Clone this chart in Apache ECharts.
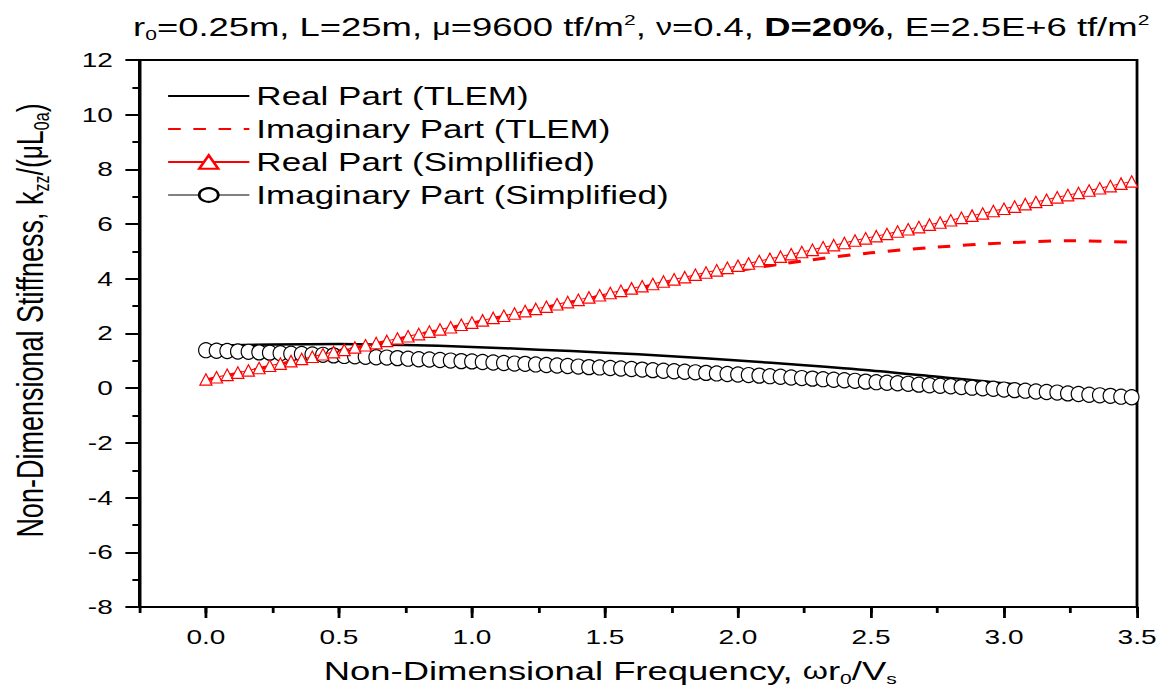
<!DOCTYPE html>
<html>
<head>
<meta charset="utf-8">
<script src="https://cdn.jsdelivr.net/npm/echarts@6/dist/echarts.min.js"></script>
<style>
html,body{margin:0;padding:0;background:#fff;overflow:hidden;}
#wrap{width:1174px;height:696px;overflow:hidden;position:relative;background:#fff;}
#chart{width:838px;height:696px;transform:scaleX(1.400955);transform-origin:0 0;}
</style>
</head>
<body>
<div id="wrap"><div id="chart"></div></div>
<script>
// ---- data ----
const tlemX = [0,0.25,0.5,0.75,1,1.25,1.5,1.75,2,2.25,2.5,2.75,3,3.25,3.5];
const realTLEM = [1.55,1.60,1.62,1.58,1.51,1.41,1.30,1.17,1.01,0.84,0.65,0.42,0.18,-0.15,-0.56];
const imagTLEM = [0.30,0.82,1.34,1.86,2.38,2.90,3.40,3.88,4.30,4.66,4.95,5.16,5.31,5.39,5.33];

const simpX = [0,0.04,0.08,0.12,0.16,0.2,0.24,0.28,0.32,0.36,
  0.4,0.44,0.48,0.52,0.56,0.6,0.64,0.68,0.72,0.76,
  0.8,0.84,0.88,0.92,0.96,1,1.04,1.08,1.12,1.16,
  1.2,1.24,1.28,1.32,1.36,1.4,1.44,1.48,1.52,1.56,
  1.6,1.64,1.68,1.72,1.76,1.8,1.84,1.88,1.92,1.96,
  2,2.04,2.08,2.12,2.16,2.2,2.24,2.28,2.32,2.36,
  2.4,2.44,2.48,2.52,2.56,2.6,2.64,2.68,2.72,2.76,
  2.8,2.84,2.88,2.92,2.96,3,3.04,3.08,3.12,3.16,
  3.2,3.24,3.28,3.32,3.36,3.4,3.44,3.48];
const realSimp = [0.32,0.40,0.49,0.57,0.65,0.74,0.82,0.90,0.99,1.07,
  1.15,1.24,1.32,1.40,1.49,1.57,1.65,1.73,1.82,1.90,
  1.98,2.07,2.15,2.23,2.32,2.40,2.48,2.57,2.65,2.73,
  2.82,2.90,2.98,3.07,3.15,3.23,3.32,3.40,3.48,3.56,
  3.65,3.73,3.81,3.90,3.98,4.06,4.15,4.23,4.31,4.40,
  4.48,4.56,4.65,4.73,4.81,4.90,4.98,5.06,5.15,5.23,
  5.31,5.40,5.48,5.56,5.64,5.73,5.81,5.89,5.98,6.06,
  6.14,6.23,6.31,6.39,6.48,6.56,6.64,6.73,6.81,6.89,
  6.98,7.06,7.14,7.23,7.31,7.39,7.48,7.56];
const imagSimp = [1.39,1.37,1.36,1.34,1.33,1.31,1.30,1.28,1.26,1.25,
  1.23,1.22,1.20,1.18,1.17,1.15,1.13,1.12,1.10,1.08,
  1.06,1.05,1.03,1.01,0.99,0.98,0.96,0.94,0.92,0.90,
  0.89,0.87,0.85,0.83,0.81,0.79,0.77,0.76,0.74,0.72,
  0.70,0.68,0.66,0.64,0.62,0.60,0.58,0.56,0.54,0.52,
  0.50,0.48,0.46,0.44,0.42,0.39,0.37,0.35,0.33,0.31,
  0.29,0.27,0.24,0.22,0.20,0.18,0.16,0.13,0.11,0.09,
  0.07,0.04,0.02,0.00,-0.02,-0.05,-0.07,-0.09,-0.12,-0.14,
  -0.16,-0.19,-0.21,-0.24,-0.26,-0.28,-0.31,-0.33];

const xMajorTicks = [0,0.5,1,1.5,2,2.5,3,3.5];
const seriesNames = ['Real Part (TLEM)','Imaginary Part (TLEM)','Real Part (Simpllified)','Imaginary Part (Simplified)'];

// ---- chart ----
const zip = (xs, ys) => xs.map((x, i) => [x, ys[i]]);
const FONT = '"Liberation Sans", Arial, Helvetica, sans-serif';
const chart = echarts.init(document.getElementById('chart'), null, {renderer: 'svg', width: 838, height: 696});

const tok = (size, lh, extra) => Object.assign({fontSize: size, lineHeight: lh, color: '#000', fontFamily: FONT, fontWeight: 'normal'}, extra || {});

const option = {
  backgroundColor: '#fff',
  animation: false,
  textStyle: {fontFamily: FONT, color: '#000', fontWeight: 'normal'},
  title: {
    left: 95, top: 12, padding: 0,
    text: '{n|r}{s|0}{n|=0.25m, L=25m, }{g|\u03bc}{n|=9600 tf/m}{p|2}{n|, }{g|\u03bd}{n|=0.4, }{b|D=20%}{n|, E=2.5E+6 tf/m}{p|2}',
    textStyle: {
      color: '#000', fontFamily: FONT, fontWeight: 'normal', fontSize: 26, lineHeight: 30,
      rich: {
        n: tok(26, 30),
        g: tok(23, 30),
        b: tok(26, 30, {fontWeight: 'bold'}),
        s: tok(15, 15, {verticalAlign: 'bottom'}),
        p: tok(15, 15, {verticalAlign: 'top'})
      }
    }
  },
  grid: {left: 97.8, right: 26.4, top: 60, bottom: 89, show: true, borderColor: '#000', borderWidth: 2, backgroundColor: 'transparent', containLabel: false},
  legend: {
    orient: 'vertical', left: 114, top: 78,
    itemWidth: 58, itemHeight: 17, itemGap: 7,
    selectedMode: false,
    textStyle: {fontSize: 25, lineHeight: 26, color: '#000', fontFamily: FONT},
    data: seriesNames
  },
  xAxis: [{
    type: 'value', min: -0.25, max: 3.5, position: 'bottom',
    axisLine: {show: true, onZero: false, lineStyle: {color: '#000', width: 2}},
    axisTick: {show: true, customValues: xMajorTicks, length: 11, lineStyle: {color: '#000', width: 2}},
    axisLabel: {customValues: xMajorTicks, formatter: v => v.toFixed(1), fontSize: 20, color: '#000', margin: 20, fontFamily: FONT},
    splitLine: {show: false},
    name: '{n|Non-Dimensional Frequency, }{g|\u03c9}{n|r}{s|0}{n|/V}{s|s}',
    nameLocation: 'middle', nameGap: 49,
    nameTextStyle: {
      padding: [0, 40, 0, 0],
      rich: {
        n: tok(26, 30),
        g: tok(23, 30),
        s: tok(15, 15, {verticalAlign: 'bottom'})
      }
    }
  }, {
    type: 'value', min: -0.25, max: 3.5, interval: 0.25, position: 'bottom',
    axisLine: {show: false, onZero: false},
    axisTick: {show: true, length: 6, lineStyle: {color: '#000', width: 2}},
    axisLabel: {show: false},
    splitLine: {show: false}
  }],
  yAxis: {
    type: 'value', min: -8, max: 12, interval: 2,
    axisLine: {show: true, onZero: false, lineStyle: {color: '#000', width: 2}},
    axisTick: {show: true, length: 10, lineStyle: {color: '#000', width: 2}},
    minorTick: {show: true, splitNumber: 2, length: 5, lineStyle: {color: '#000', width: 2}},
    axisLabel: {fontSize: 20, color: '#000', margin: 19, fontFamily: FONT},
    splitLine: {show: false}, minorSplitLine: {show: false},
    name: '{n|Non-Dimensional Stiffness, k}{s|zz}{n|/(}{g|\u03bc}{n|L}{s|0a}{n|)}',
    nameLocation: 'middle', nameGap: 62, nameRotate: 90,
    nameTextStyle: {
      padding: [0, 0, 0, 26],
      rich: {
        n: tok(27, 32),
        g: tok(24, 32),
        s: tok(16, 16, {verticalAlign: 'bottom'})
      }
    }
  },
  series: [{
    name: seriesNames[0], type: 'line', xAxisIndex: 0,
    data: zip(tlemX, realTLEM), smooth: 0.3,
    symbol: 'circle', showSymbol: false,
    lineStyle: {color: '#000', width: 2.5},
    itemStyle: {color: 'rgba(0,0,0,0)', borderWidth: 0}, z: 2
  }, {
    name: seriesNames[1], type: 'line', xAxisIndex: 0,
    data: zip(tlemX, imagTLEM), smooth: 0.3,
    symbol: 'circle', showSymbol: false,
    lineStyle: {color: '#ff0000', width: 3, type: [9, 9]},
    itemStyle: {color: 'rgba(0,0,0,0)', borderWidth: 0}, z: 2
  }, {
    name: seriesNames[3], type: 'line', xAxisIndex: 0,
    data: zip(simpX, imagSimp),
    symbol: 'circle', symbolSize: [10.4, 15], showAllSymbol: true,
    lineStyle: {color: '#808080', width: 1},
    itemStyle: {color: '#ffffff', borderColor: '#000', borderWidth: 1}, z: 3
  }, {
    name: seriesNames[2], type: 'line', xAxisIndex: 0,
    data: zip(simpX, realSimp),
    symbol: 'triangle', symbolSize: [8.6, 11.5], showAllSymbol: true,
    lineStyle: {color: '#ff0000', width: 1},
    itemStyle: {color: '#ffffff', borderColor: '#ff0000', borderWidth: 1}, z: 4
  }]
};
chart.setOption(option);
</script>
</body>
</html>
